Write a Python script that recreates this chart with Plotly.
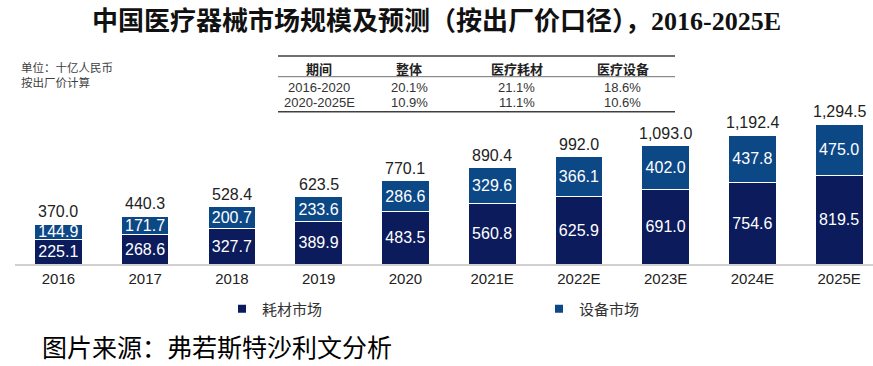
import plotly.graph_objects as go

# ---------------- data ----------------
categories = ['2016', '2017', '2018', '2019', '2020',
              '2021E', '2022E', '2023E', '2024E', '2025E']
consumables = [225.1, 268.6, 327.7, 389.9, 483.5, 560.8, 625.9, 691.0, 754.6, 819.5]
equipment = [144.9, 171.7, 200.7, 233.6, 286.6, 329.6, 366.1, 402.0, 437.8, 475.0]
totals = [370.0, 440.3, 528.4, 623.5, 770.1, 890.4, 992.0, 1093.0, 1192.4, 1294.5]

series_names = ['耗材市场', '设备市场']

table_header = ['期间', '整体', '医疗耗材', '医疗设备']
table_rows = [
    ['2016-2020', '20.1%', '21.1%', '18.6%'],
    ['2020-2025E', '10.9%', '11.1%', '10.6%'],
]

title_cn = '中国医疗器械市场规模及预测（按出厂价口径），'
title_num = '2016-2025E'
unit_lines = ['单位：十亿人民币', '按出厂价计算']
source_text = '图片来源：弗若斯特沙利文分析'

# ---------------- style ----------------
W, H = 873, 366
ML, MR, MT, MB = 15, 0, 110, 102
PW, PH = W - ML - MR, H - MT - MB
DARK = '#0b1b5c'
LIGHT = '#0d4886'
FONT = 'Liberation Sans, Arial, Noto Sans CJK SC, sans-serif'
CJK = 'Noto Sans CJK SC, sans-serif'


def px2x(px):
    return (px - ML) / PW


def px2y(py):
    return (H - MB - py) / PH


fig = go.Figure()

fig.add_trace(go.Bar(
    x=categories, y=consumables, name=series_names[0],
    marker=dict(color=DARK, line=dict(color='white', width=1)),
    width=0.55, text=[f'{v:.1f}' for v in consumables],
    textposition='inside', insidetextanchor='middle', constraintext='none',
    textfont=dict(color='white', size=16, family=FONT),
    showlegend=False, hoverinfo='x+y'))
fig.add_trace(go.Bar(
    x=categories, y=equipment, name=series_names[1],
    marker=dict(color=LIGHT, line=dict(color='white', width=1)),
    width=0.55, text=[f'{v:.1f}' for v in equipment],
    textposition='inside', insidetextanchor='middle', constraintext='none',
    textfont=dict(color='white', size=16, family=FONT),
    showlegend=False, hoverinfo='x+y'))

# legend entries (small square markers)
fig.add_trace(go.Scatter(x=[None], y=[None], mode='markers', name=series_names[0],
                         marker=dict(symbol='square', size=8, color=DARK),
                         legend='legend'))
fig.add_trace(go.Scatter(x=[None], y=[None], mode='markers', name=series_names[1],
                         marker=dict(symbol='square', size=8, color=LIGHT),
                         legend='legend2'))

annotations = []
# totals above bars (x given as category index)
for i, t in enumerate(totals):
    annotations.append(dict(x=i, y=t, xref='x', yref='y', text=f'{t:,.1f}',
                            showarrow=False, yanchor='bottom', yshift=2,
                            font=dict(size=16, color='#222222', family=FONT)))

# title
annotations.append(dict(
    x=px2x(436.5), y=px2y(18), xref='paper', yref='paper', showarrow=False,
    xanchor='center', yanchor='middle',
    text=f"<b>{title_cn}</b><span style='font-family:Liberation Serif, Times New Roman, serif'><b>{title_num}</b></span>",
    font=dict(size=26, color='#111111', family=CJK)))

# unit notes
annotations.append(dict(x=px2x(19), y=px2y(74.5), xref='paper', yref='paper',
                        showarrow=False, xanchor='left', yanchor='middle',
                        align='left', text='<br>'.join(unit_lines),
                        font=dict(size=11.5, color='#404040', family=CJK)))

# table
col_x = [319, 409, 516.5, 622.5]
for cx, h in zip(col_x, table_header):
    annotations.append(dict(x=px2x(cx), y=px2y(68.3), xref='paper', yref='paper',
                            showarrow=False, xanchor='center', yanchor='middle',
                            text=f'<b>{h}</b>', font=dict(size=13, color='#222222', family=CJK)))
row_y = [87.3, 102.3]
for ry, row in zip(row_y, table_rows):
    for cx, cell in zip(col_x, row):
        annotations.append(dict(x=px2x(cx), y=px2y(ry), xref='paper', yref='paper',
                                showarrow=False, xanchor='center', yanchor='middle',
                                text=cell, font=dict(size=13, color='#333333', family=FONT)))

# source
annotations.append(dict(x=px2x(40), y=px2y(346), xref='paper', yref='paper',
                        showarrow=False, xanchor='left', yanchor='middle', text=source_text,
                        font=dict(size=25, color='#000000', family=CJK)))

shapes = []
for ly, lw, lc in [(56, 1.5, '#404040'), (76.7, 1, '#707070'), (111.7, 1.5, '#404040')]:
    shapes.append(dict(type='line', xref='paper', yref='paper',
                       x0=px2x(278), x1=px2x(675), y0=px2y(ly), y1=px2y(ly),
                       line=dict(color=lc, width=lw)))

fig.update_layout(
    width=W, height=H, autosize=False,
    margin=dict(l=ML, r=MR, t=MT, b=MB, pad=0, autoexpand=False),
    paper_bgcolor='white', plot_bgcolor='white',
    barmode='stack',
    font=dict(family=FONT, color='#222222'),
    xaxis=dict(type='category', range=[-0.5, 9.39], showline=True, linecolor='#d0d0d0',
               linewidth=1.5, ticks='', showgrid=False, zeroline=False,
               tickfont=dict(size=15, color='#222222', family=FONT), fixedrange=True),
    yaxis=dict(range=[0, PH / 0.1081], visible=False, showgrid=False, zeroline=False,
               fixedrange=True),
    legend=dict(x=px2x(222), y=px2y(309), xanchor='left', yanchor='middle',
                orientation='h', bgcolor='rgba(0,0,0,0)', borderwidth=0,
                font=dict(size=15, color='#333333', family=CJK)),
    legend2=dict(x=px2x(539), y=px2y(309), xanchor='left', yanchor='middle',
                 orientation='h', bgcolor='rgba(0,0,0,0)', borderwidth=0,
                 font=dict(size=15, color='#333333', family=CJK)),
    annotations=annotations,
    shapes=shapes,
)

fig.write_html('out.html',
               config={'displayModeBar': False},
               post_script="document.body.style.margin='0';document.body.style.padding='0';")
